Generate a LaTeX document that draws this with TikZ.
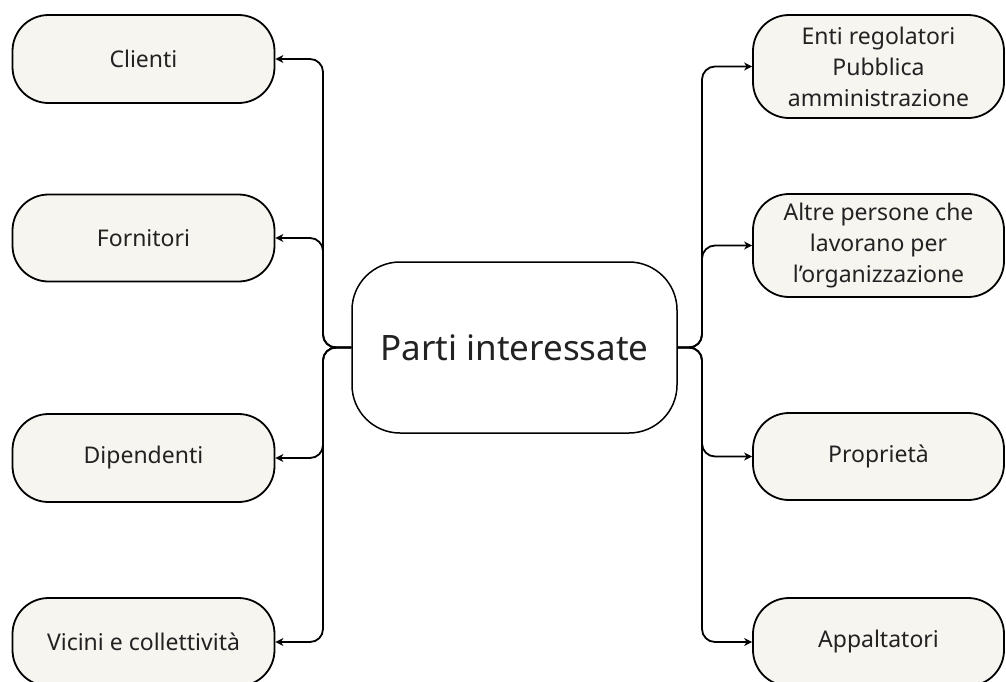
\documentclass[tikz,border=0pt]{standalone}
\usepackage{fontspec}
\setmainfont{Noto Sans}
\usetikzlibrary{arrows.meta}
\definecolor{boxfill}{HTML}{F7F5F0}
\definecolor{ink}{HTML}{222222}
\tikzset{
  side/.style={draw=black, line width=1.8pt, fill=boxfill, rounded corners=36pt,
    minimum width=262pt, minimum height=88pt, inner sep=0pt, align=center,
    font=\fontsize{23}{31}\selectfont, text=ink},
  hub/.style={draw=black, line width=1.5pt, fill=white, rounded corners=48pt,
    minimum width=325pt, minimum height=171pt, inner sep=0pt,
    font=\fontsize{35}{40}\selectfont, text=ink},
  link/.style={draw=black, line width=1.8pt, rounded corners=13pt,
    -{Stealth[length=8pt,width=8pt,inset=2.5pt]}}
}
\begin{document}
\begin{tikzpicture}[x=1pt,y=-1pt]
\useasboundingbox (0,0) rectangle (1006,681);
\begin{scope}
\clip (0,0) rectangle (1006,681);
\node[hub] (hub) at (514.5,347.5) {Parti interessate};
\node[side] (clienti) at (143.5,59) {Clienti};
\node[side, minimum height=87pt] (fornitori) at (143.5,238) {Fornitori};
\node[side] (dipendenti) at (143.5,458) {Dipendenti};
\node[side] (vicini) at (143.5,642) {Vicini e collettività};
\node[side, minimum width=251pt, minimum height=103pt] (enti) at (878.5,66.5) {Enti regolatori\\Pubblica\\amministrazione};
\node[side, minimum width=251pt, minimum height=103pt] (altre) at (878.5,245.5) {Altre persone che\\lavorano per\\l’organizzazione};
\node[side, minimum width=251pt, minimum height=87pt] (proprieta) at (878.5,456.5) {Proprietà};
\node[side, minimum width=251pt] (appaltatori) at (878.5,642) {Appaltatori};
\coordinate (lj) at (323,347.5);
\coordinate (rj) at (702,347.5);
\draw[link] (hub.west) -- (lj) |- (clienti.east);
\draw[link] (hub.west) -- (lj) |- (fornitori.east);
\draw[link] (hub.west) -- (lj) |- (dipendenti.east);
\draw[link] (hub.west) -- (lj) |- (vicini.east);
\draw[link] (hub.east) -- (rj) |- (enti.west);
\draw[link] (hub.east) -- (rj) |- (altre.west);
\draw[link] (hub.east) -- (rj) |- (proprieta.west);
\draw[link] (hub.east) -- (rj) |- (appaltatori.west);
\end{scope}
\end{tikzpicture}
\end{document}
